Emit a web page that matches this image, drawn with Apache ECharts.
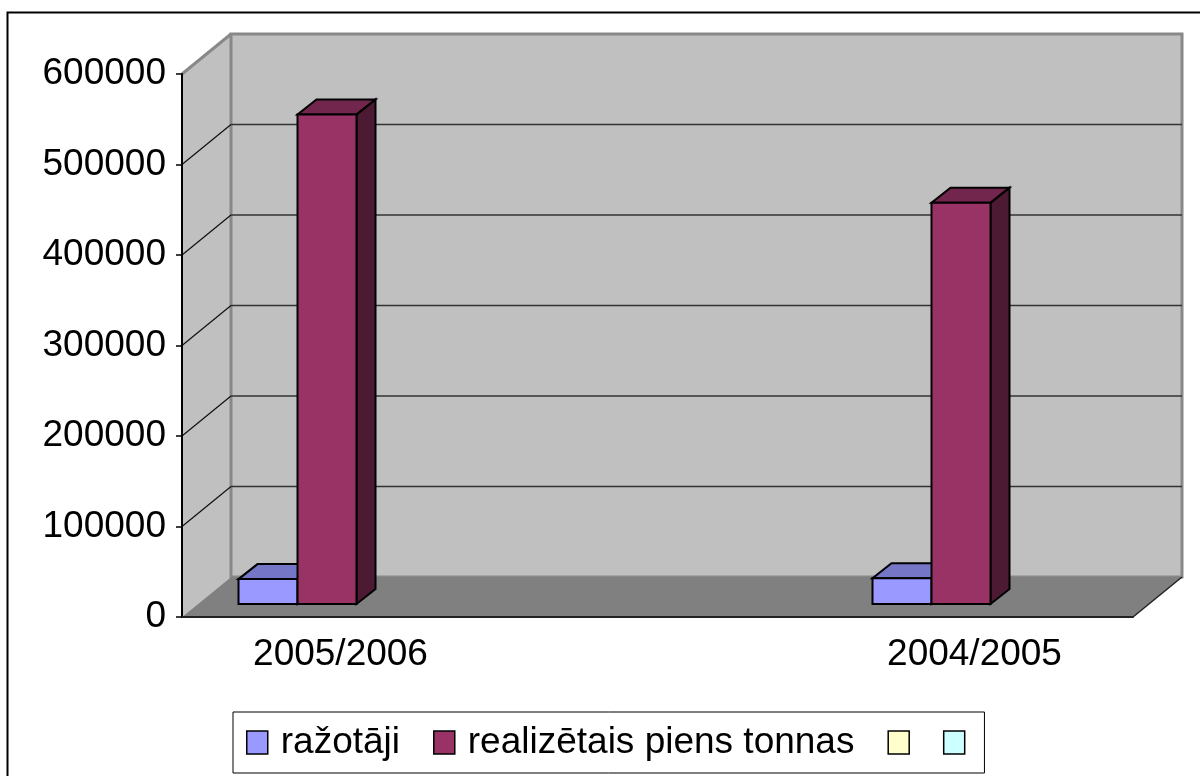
<!DOCTYPE html>
<html lang="lv">
<head>
  <meta charset="UTF-8">
  <title>ražotāji / realizētais piens</title>
  <script src="https://cdn.jsdelivr.net/npm/echarts@6.0.0/dist/echarts.min.js"></script>
  <style>
    html, body { margin: 0; padding: 0; background: #fff; }
    #main { width: 1200px; height: 776px; }
  </style>
</head>
<body>
<div id="main"></div>
<script>
  // data
  var categories = ['2005/2006', '', '2004/2005'];
  var producers = [27500, null, 28500];        // ražotāji
  var milkTonnes = [541000, null, 443500];     // realizētais piens tonnas
  var emptyYellow = [null, null, null];
  var emptyCyan = [null, null, null];
  var yMin = 0, yMax = 600000, yStep = 100000;

  var seriesNames = ['ražotāji', 'realizētais piens tonnas', 's3', 's4'];
  var legendText = { 'ražotāji': 'ražotāji', 'realizētais piens tonnas': 'realizētais piens tonnas', 's3': '', 's4': '' };
  var faceColors = [
    { front: '#9999FF', top: '#7676C6', side: '#4C4C80' },
    { front: '#993366', top: '#73264D', side: '#4D1A33' },
    { front: '#FFFFCC', top: '#CCCCA3', side: '#99997A' },
    { front: '#CCFFFF', top: '#A3CCCC', side: '#7A9999' }
  ];

  // fake 3d geometry (pixels)
  var WALL_DX = 49, WALL_DY = -40;
  var BAR_FX = 16, BAR_FY = -13;   // front face shift from axis plane
  var BAR_DX = 19, BAR_DY = -15;   // bar depth
  var BAR_RATIO = 59 / 317;

  var myChart = echarts.init(document.getElementById('main'), null, { renderer: 'canvas' });

  function renderWalls(params, api) {
    var cs = params.coordSys;
    var x0 = cs.x, x1 = cs.x + cs.width, yt = cs.y, yb = cs.y + cs.height;
    var kids = [];
    // left side wall
    kids.push({ type: 'polygon', shape: { points: [[x0, yb], [x0, yt], [x0 + WALL_DX, yt + WALL_DY], [x0 + WALL_DX, yb + WALL_DY]] },
      style: { fill: '#C0C0C0' } });
    // back wall
    kids.push({ type: 'rect', shape: { x: x0 + WALL_DX, y: yt + WALL_DY, width: cs.width, height: cs.height },
      style: { fill: '#C0C0C0', stroke: '#888888', lineWidth: 3 } });
    // floor
    kids.push({ type: 'polygon', shape: { points: [[x0, yb], [x1, yb], [x1 + WALL_DX, yb + WALL_DY], [x0 + WALL_DX, yb + WALL_DY]] },
      style: { fill: '#808080' } });
    kids.push({ type: 'line', shape: { x1: x1, y1: yb, x2: x1 + WALL_DX, y2: yb + WALL_DY },
      style: { stroke: '#222', lineWidth: 1.5 } });
    kids.push({ type: 'line', shape: { x1: x0, y1: yt, x2: x0 + WALL_DX, y2: yt + WALL_DY },
      style: { stroke: '#888888', lineWidth: 3 } });
    // grid lines
    for (var v = yMin + yStep; v < yMax; v += yStep) {
      var y = api.coord([0, v])[1];
      kids.push({ type: 'line', shape: { x1: x0, y1: y, x2: x0 + WALL_DX, y2: y + WALL_DY },
        style: { stroke: '#111', lineWidth: 1.2 } });
      kids.push({ type: 'line', shape: { x1: x0 + WALL_DX, y1: y + WALL_DY, x2: x1 + WALL_DX, y2: y + WALL_DY },
        style: { stroke: '#333', lineWidth: 1.5 } });
    }
    return { type: 'group', children: kids };
  }

  function makeBarRenderer(k) {
    var col = faceColors[k];
    return function (params, api) {
      var val = api.value(1);
      if (val == null || isNaN(val)) return null;
      var top = api.coord([api.value(0), val]);
      var base = api.coord([api.value(0), 0]);
      var band = api.size([1, 0])[0];
      var w = band * BAR_RATIO;
      var x = top[0] - 2 * w + k * w + BAR_FX;
      var yT = top[1] + BAR_FY, yB = base[1] + BAR_FY;
      var st = { stroke: '#000', lineWidth: 2, lineJoin: 'miter' };
      return {
        type: 'group',
        children: [
          { type: 'polygon', shape: { points: [[x + w, yT], [x + w + BAR_DX, yT + BAR_DY], [x + w + BAR_DX, yB + BAR_DY], [x + w, yB]] },
            style: Object.assign({ fill: col.side }, st) },
          { type: 'polygon', shape: { points: [[x, yT], [x + w, yT], [x + w + BAR_DX, yT + BAR_DY], [x + BAR_DX, yT + BAR_DY]] },
            style: Object.assign({ fill: col.top }, st) },
          { type: 'rect', shape: { x: x, y: yT, width: w, height: yB - yT },
            style: Object.assign({ fill: col.front }, st) }
        ]
      };
    };
  }

  var valueLists = [producers, milkTonnes, emptyYellow, emptyCyan];
  var barSeries = valueLists.map(function (vals, k) {
    return {
      name: seriesNames[k],
      type: 'custom',
      renderItem: makeBarRenderer(k),
      itemStyle: { color: faceColors[k].front },
      encode: { x: 0, y: 1 },
      z: 3,
      data: vals.map(function (v, i) { return [i, v]; })
    };
  });

  var option = {
    animation: false,
    textStyle: { fontFamily: 'Liberation Sans, Arial, sans-serif' },
    graphic: [{
      type: 'rect', silent: true, z: -10,
      shape: { x: 7.5, y: 12.5, width: 1300, height: 900 },
      style: { fill: 'none', stroke: '#000', lineWidth: 2 }
    }],
    grid: { left: 182, right: 67, top: 74, bottom: 159 },
    legend: {
      left: 233, top: 712,
      padding: [12, 19, 12, 13],
      borderColor: '#000', borderWidth: 1,
      icon: 'rect', itemWidth: 21, itemHeight: 23, itemGap: 33,
      formatter: function (name) { return legendText[name]; },
      textStyle: { fontSize: 37, color: '#000', padding: [0, 0, 0, 8] },
      data: seriesNames.map(function (n, k) {
        return { name: n, itemStyle: { color: faceColors[k].front, borderColor: '#000', borderWidth: 1.5 } };
      })
    },
    xAxis: {
      type: 'category',
      data: categories,
      z: 5,
      axisLine: { lineStyle: { color: '#222', width: 2 } },
      axisTick: { length: 8, lineStyle: { color: '#444', width: 2 } },
      axisLabel: { fontSize: 37, color: '#000', margin: 19 },
      splitLine: { show: false }
    },
    yAxis: {
      type: 'value',
      min: yMin, max: yMax, interval: yStep,
      z: 5,
      axisLine: { show: true, lineStyle: { color: '#000', width: 2 } },
      axisTick: { show: true, length: 6, lineStyle: { color: '#000', width: 1.5 } },
      axisLabel: { fontSize: 37, color: '#000', margin: 16, formatter: function (v) { return String(v); } },
      splitLine: { show: false }
    },
    series: [{
      name: 'walls',
      type: 'custom',
      silent: true,
      z: 1,
      renderItem: renderWalls,
      encode: { x: 0, y: 1 },
      data: [[0, 0]]
    }].concat(barSeries)
  };

  myChart.setOption(option);
</script>
</body>
</html>
